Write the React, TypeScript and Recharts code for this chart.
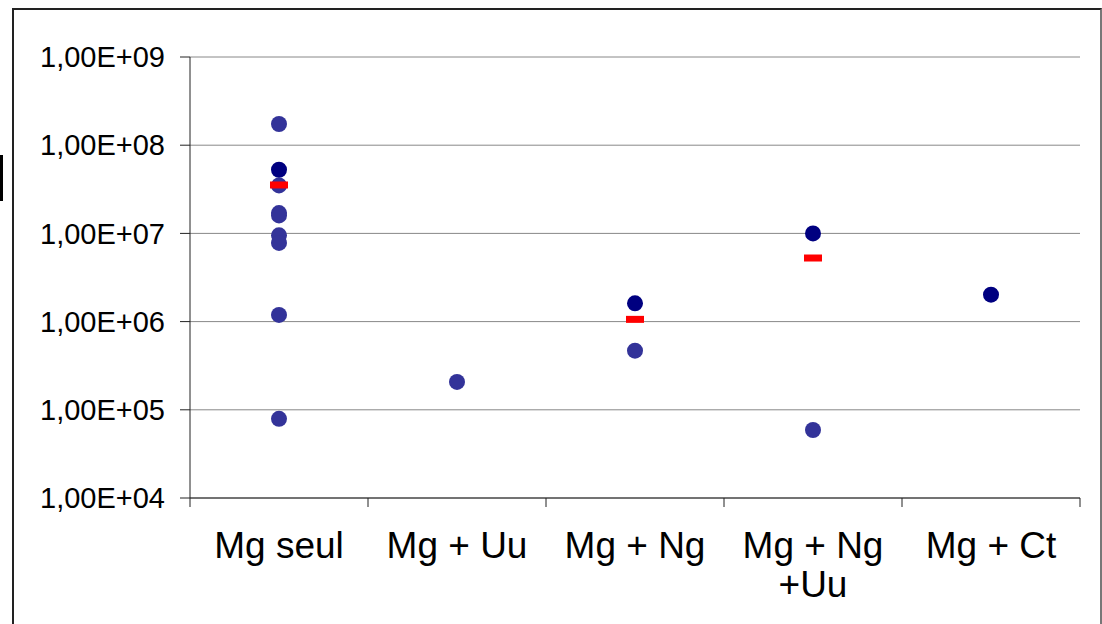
import React from "react";
import {
  ScatterChart,
  Scatter,
  XAxis,
  YAxis,
  CartesianGrid,
} from "recharts";

const categories = ["Mg seul", "Mg + Uu", "Mg + Ng", "Mg + Ng\n+Uu", "Mg + Ct"];

// individual values per group (lighter blue dots)
const mgSeul = [1.74e8, 3.5e7, 1.7e7, 1.6e7, 9.5e6, 7.8e6, 1.19e6, 7.9e4];
const mgUu = [2.07e5];
const mgNg = [4.68e5];
const mgNgUu = [5.9e4];
const mgCt: number[] = [];

// darker navy dots
const navyValues = [5.27e7, null, 1.61e6, 1.0e7, 2.02e6];

// red dashes (means)
const meanValues = [3.54e7, null, 1.06e6, 5.26e6, null];

const yTicks = [1e4, 1e5, 1e6, 1e7, 1e8, 1e9];
const boundaryTicks = [0, 1, 2, 3, 4, 5];
const centerTicks = [0.5, 1.5, 2.5, 3.5, 4.5];

const groups = [mgSeul, mgUu, mgNg, mgNgUu, mgCt];

const lightData = groups.flatMap((vals, i) =>
  vals.map((v) => ({ x: i + 0.5, y: v }))
);
const navyData = navyValues
  .map((v, i) => ({ x: i + 0.5, y: v }))
  .filter((d) => d.y !== null);
const meanData = meanValues
  .map((v, i) => ({ x: i + 0.5, y: v }))
  .filter((d) => d.y !== null);

const formatExp = (v: number) => {
  const e = Math.round(Math.log10(v));
  return "1,00E+" + String(e).padStart(2, "0");
};

const Dot = (color: string) => (props: any) =>
  <circle cx={props.cx} cy={props.cy} r={8} fill={color} />;

const Dash = (props: any) => (
  <rect x={props.cx - 9} y={props.cy - 3.5} width={18} height={7} fill="#FF0000" />
);

const CatTick = (props: any) => {
  const { x, y, payload } = props;
  const idx = Math.floor(payload.value);
  const lines = (categories[idx] || "").split("\n");
  return (
    <text
      x={x}
      y={y}
      textAnchor="middle"
      fontSize={37}
      fill="#000"
      fontFamily="Liberation Sans, Arial, sans-serif"
    >
      {lines.map((l, i) => (
        <tspan key={i} x={x} dy={i === 0 ? 50 : 39}>
          {l}
        </tspan>
      ))}
    </text>
  );
};

export default function App() {
  return (
    <div
      style={{
        position: "absolute",
        left: 0,
        top: 0,
        width: 1102,
        height: 624,
        overflow: "hidden",
        background: "#fff",
        fontFamily: "Liberation Sans, Arial, sans-serif",
      }}
    >
      <div
        style={{
          position: "absolute",
          left: 12,
          top: 8,
          width: 1090,
          height: 700,
          boxSizing: "border-box",
          borderTop: "2px solid #222",
          borderLeft: "2px solid #222",
          borderRight: "2px solid #777",
        }}
      />
      <div
        style={{
          position: "absolute",
          left: 0,
          top: 155,
          width: 3,
          height: 46,
          background: "#000",
        }}
      />
      <div style={{ position: "absolute", left: 0, top: 0 }}>
        <ScatterChart
          width={1102}
          height={624}
          margin={{ top: 57, right: 22, left: 20, bottom: 16 }}
        >
          <CartesianGrid
            xAxisId="b"
            vertical={false}
            stroke="#888"
            strokeWidth={1}
          />
          <XAxis
            xAxisId="a"
            type="number"
            dataKey="x"
            domain={[0, 5]}
            ticks={boundaryTicks}
            tickFormatter={() => ""}
            tickSize={9}
            height={10}
            interval={0}
            axisLine={{ stroke: "#222" }}
            tickLine={{ stroke: "#222" }}
            allowDataOverflow
          />
          <XAxis
            xAxisId="b"
            type="number"
            dataKey="x"
            domain={[0, 5]}
            ticks={centerTicks}
            tick={<CatTick />}
            tickSize={0}
            tickMargin={0}
            axisLine={false}
            tickLine={false}
            height={100}
            interval={0}
            allowDataOverflow
          />
          <YAxis
            type="number"
            dataKey="y"
            scale="log"
            domain={[1e4, 1e9]}
            ticks={yTicks}
            tickFormatter={formatExp}
            width={170}
            tickSize={10}
            tickMargin={15}
            interval={0}
            allowDataOverflow
            axisLine={{ stroke: "#222" }}
            tickLine={{ stroke: "#222" }}
            tick={{ fontSize: 29, fill: "#000" }}
          />
          <Scatter
            xAxisId="b"
            data={lightData}
            shape={Dot("#333399")}
            isAnimationActive={false}
          />
          <Scatter
            xAxisId="b"
            data={navyData}
            shape={Dot("#000080")}
            isAnimationActive={false}
          />
          <Scatter
            xAxisId="b"
            data={meanData}
            shape={Dash}
            isAnimationActive={false}
          />
        </ScatterChart>
      </div>
    </div>
  );
}
